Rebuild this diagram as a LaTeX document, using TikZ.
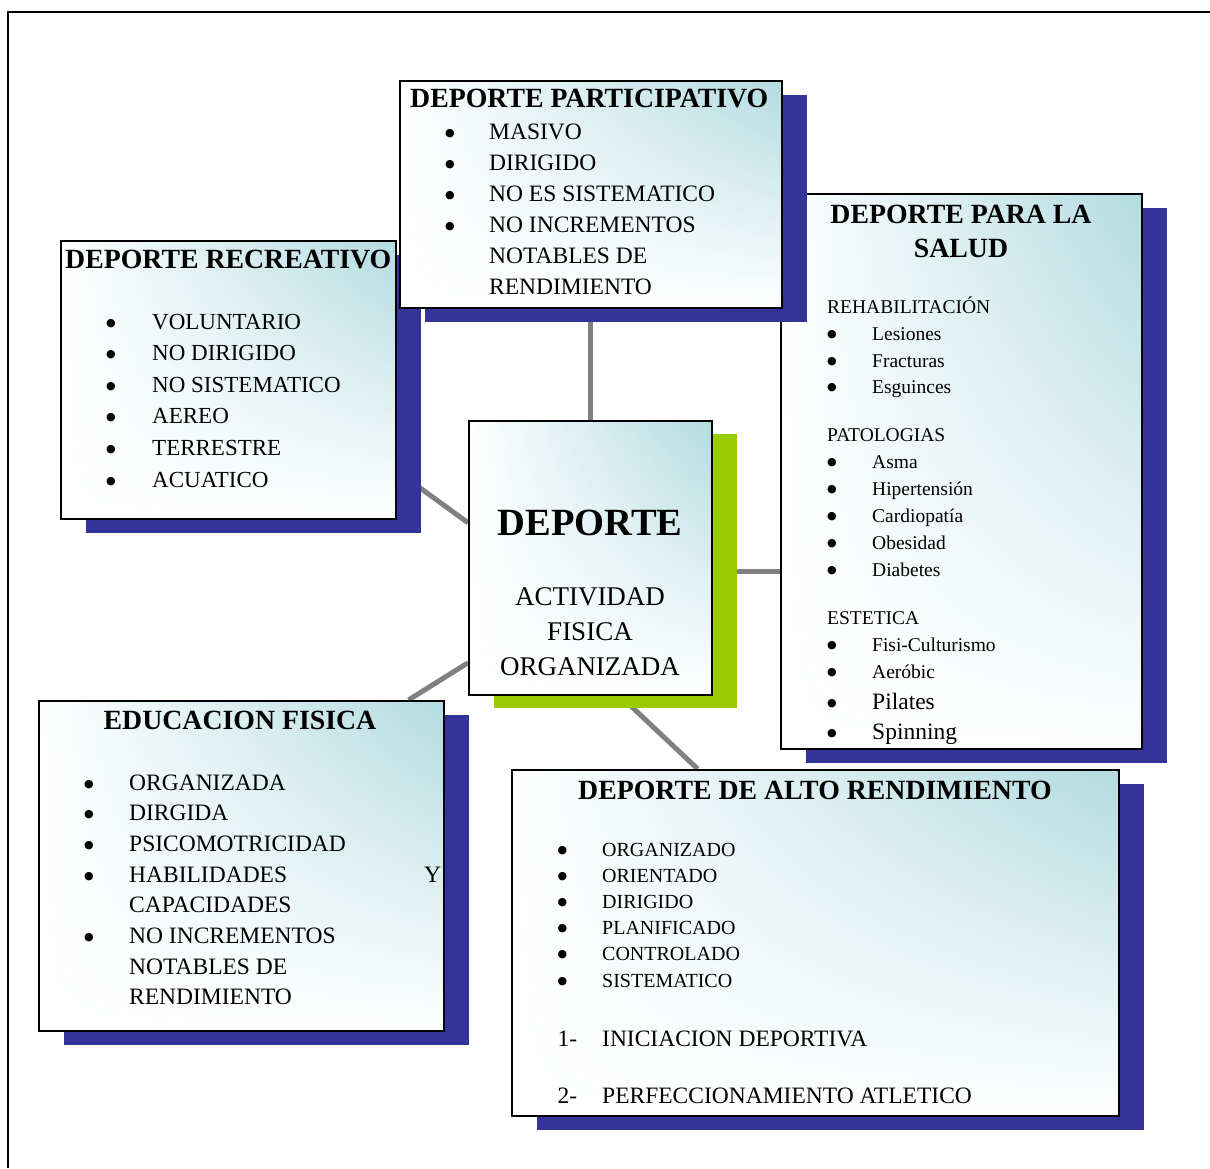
\documentclass[tikz,border=0pt]{standalone}
\usepackage{fontspec}
\setmainfont{Liberation Serif}
\newfontfamily\dejavu{DejaVu Sans}
\usetikzlibrary{shadows,shadings}
\definecolor{navy}{RGB}{51,51,153}
\definecolor{lime}{RGB}{153,204,0}
\definecolor{tealish}{RGB}{178,219,224}
\definecolor{conn}{RGB}{128,128,128}
\newcommand\bul{\raisebox{3pt}{\dejavu\fontsize{11}{11}\selectfont ●}}
\pgfdeclarelayer{bg}
\pgfsetlayers{bg,main}
\begin{document}
\begin{tikzpicture}[x=1pt,y=-1pt,
  panel/.style={draw=black, line width=1.5pt, rectangle, inner sep=0pt, anchor=north west,
    upper left=white, upper right=tealish, lower left=white, lower right=white},
  navysh/.style={drop shadow={shadow xshift=25pt, shadow yshift=-14pt, fill=navy, opacity=1}},
  limesh/.style={drop shadow={shadow xshift=25pt, shadow yshift=-13pt, fill=lime, opacity=1}},
  ttl/.style={font=\fontsize{27.8}{34}\selectfont\bfseries, inner sep=0pt},
  lst/.style={inner sep=0pt, anchor=base west},
  link/.style={draw=conn, line width=5pt}]
\useasboundingbox (0,0) rectangle (1210,1168);
\draw[line width=2pt] (8,1168) -- (8,12) -- (1210,12);

% boxes
\node[panel, navysh, minimum width=361pt, minimum height=555pt] (S) at (780,193) {};
\node[panel, navysh, minimum width=335pt, minimum height=278pt] (R) at (60,240) {};
\node[panel, navysh, minimum width=382pt, minimum height=227pt] (P) at (399,80) {};
\node[panel, limesh, minimum width=243pt, minimum height=274pt] (C) at (468,420) {};
\node[panel, navysh, minimum width=405pt, minimum height=330pt] (E) at (38,700) {};
\node[panel, navysh, minimum width=607pt, minimum height=346pt] (A) at (511,769) {};

% participativo
\node[ttl, anchor=base west] (Pt) at (410,107) {DEPORTE PARTICIPATIVO};
\node[lst] (Pl) at (445,139) {\fontsize{23.5}{31}\selectfont
  \begin{tabular}[t]{@{}p{44pt}@{}l@{}}
  \bul & MASIVO\\
  \bul & DIRIGIDO\\
  \bul & NO ES SISTEMATICO\\
  \bul & NO INCREMENTOS\\
   & NOTABLES DE\\
   & RENDIMIENTO
  \end{tabular}};

% recreativo
\node[ttl, anchor=base west] (Rt) at (65,268) {DEPORTE RECREATIVO};
\node[lst] (Rl) at (106,329) {\fontsize{23}{31.6}\selectfont
  \begin{tabular}[t]{@{}p{46pt}@{}l@{}}
  \bul & VOLUNTARIO\\
  \bul & NO DIRIGIDO\\
  \bul & NO SISTEMATICO\\
  \bul & AEREO\\
  \bul & TERRESTRE\\
  \bul & ACUATICO
  \end{tabular}};

% salud
\node[ttl, anchor=base] (St) at (961,223) {\begin{tabular}[t]{@{}c@{}}DEPORTE PARA LA\\ SALUD\end{tabular}};
\node[lst] (Sl) at (827,313) {\fontsize{19.5}{27}\selectfont
  \begin{tabular}[t]{@{}p{45pt}@{}l@{}}
  \multicolumn{2}{@{}l@{}}{REHABILITACIÓN}\\
  \bul & Lesiones\\
  \bul & Fracturas\\[-1pt]
  \bul & Esguinces\\[21pt]
  \multicolumn{2}{@{}l@{}}{PATOLOGIAS}\\
  \bul & Asma\\
  \bul & Hipertensión\\
  \bul & Cardiopatía\\
  \bul & Obesidad\\
  \bul & Diabetes\\[21pt]
  \multicolumn{2}{@{}l@{}}{ESTETICA}\\
  \bul & Fisi-Culturismo\\
  \bul & Aeróbic\\[4pt]
  \bul & {\fontsize{23.5}{27}\selectfont Pilates}\\[3pt]
  \bul & {\fontsize{23.5}{27}\selectfont Spinning}
  \end{tabular}};

% center
\node[font=\fontsize{38.5}{40}\selectfont\bfseries, anchor=base, inner sep=0pt] (Ct) at (590,535) {DEPORTE};
\node[anchor=base, inner sep=0pt] (Cs) at (590,605) {\fontsize{27}{35}\selectfont
  \begin{tabular}[t]{@{}c@{}}ACTIVIDAD\\ FISICA\\ ORGANIZADA\end{tabular}};

% educacion fisica
\node[ttl, anchor=base] (Et) at (240,729) {EDUCACION FISICA};
\node[lst] (El) at (84,790) {\fontsize{23.5}{30.7}\selectfont
  \begin{tabular}[t]{@{}p{45pt}@{}l@{}}
  \bul & ORGANIZADA\\
  \bul & DIRGIDA\\
  \bul & PSICOMOTRICIDAD\\
  \bul & \makebox[312pt][l]{HABILIDADES\hfill Y}\\
   & CAPACIDADES\\
  \bul & NO INCREMENTOS\\
   & NOTABLES DE\\
   & RENDIMIENTO
  \end{tabular}};

% alto rendimiento
\node[ttl, anchor=base] (At) at (815,799) {DEPORTE DE ALTO RENDIMIENTO};
\node[lst] (Al) at (557.5,856) {\fontsize{20}{26.2}\selectfont
  \begin{tabular}[t]{@{}p{44.5pt}@{}l@{}}
  \bul & ORGANIZADO\\
  \bul & ORIENTADO\\
  \bul & DIRIGIDO\\
  \bul & PLANIFICADO\\
  \bul & CONTROLADO\\
  \bul & SISTEMATICO\\[33pt]
  {\fontsize{23.5}{26.2}\selectfont 1-} & {\fontsize{23.5}{26.2}\selectfont INICIACION DEPORTIVA}\\[31pt]
  {\fontsize{23.5}{26.2}\selectfont 2-} & {\fontsize{23.5}{26.2}\selectfont PERFECCIONAMIENTO ATLETICO}
  \end{tabular}};

% connectors
\begin{pgfonlayer}{bg}
\draw[link] (C.north) -- (C.north |- P.south);
\draw[link] ([yshift=-14pt]C.east) -- ([yshift=-14pt]C.east -| S.west);
\draw[link] ([yshift=35pt]C.west) -- ([yshift=-91pt]R.east);
\draw[link] ([yshift=-105pt]C.west) -- ([xshift=-36pt]E.north east);
\draw[link] ([xshift=29.5pt]C.south) -- ([xshift=-117.5pt]A.north);
\end{pgfonlayer}
\end{tikzpicture}
\end{document}
